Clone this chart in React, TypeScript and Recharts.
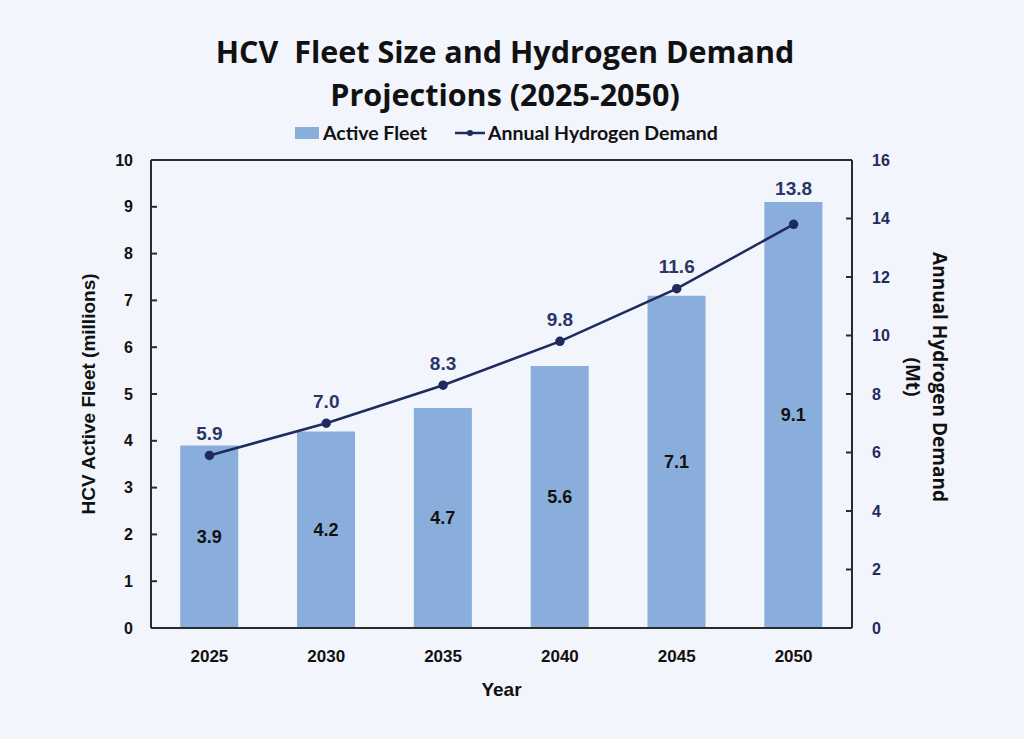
import React from "react";
import {
  ComposedChart,
  Bar,
  Line,
  XAxis,
  YAxis,
  LabelList,
  ReferenceLine,
} from "recharts";

const years = ["2025", "2030", "2035", "2040", "2045", "2050"];
const activeFleet = [3.9, 4.2, 4.7, 5.6, 7.1, 9.1];
const hydrogenDemand = [5.9, 7.0, 8.3, 9.8, 11.6, 13.8];
const fleetTicks = [0, 1, 2, 3, 4, 5, 6, 7, 8, 9, 10];
const demandTicks = [0, 2, 4, 6, 8, 10, 12, 14, 16];

const data = years.map((year, i) => ({
  year,
  fleet: activeFleet[i],
  demand: hydrogenDemand[i],
}));

const BG = "#f2f5fb";
const BAR = "#8aaedb";
const NAVY = "#1f2a5e";
const AXIS = "#2b2b2b";
const FONT = "'Liberation Sans', Arial, sans-serif";

const WIDTH = 1024;
const HEIGHT = 739;
const MARGIN = { top: 160, right: 112, bottom: 51, left: 91 };
const X_AXIS_H = 60;
const PLOT_H = HEIGHT - MARGIN.top - MARGIN.bottom - X_AXIS_H;

// demand labels sit above the point, but are lifted clear of a bar top that would cut through them
const DemandLabel = (props: any) => {
  const { x, y, value, index } = props;
  const barTop = y - (activeFleet[index] / 10 - hydrogenDemand[index] / 16) * PLOT_H;
  let ly = y - 22;
  if (ly + 9 > barTop) ly = barTop - 14;
  return (
    <text
      x={x}
      y={ly}
      textAnchor="middle"
      dominantBaseline="central"
      fill="#2b3567"
      fontSize={19}
      fontWeight={700}
      fontFamily={FONT}
    >
      {Number(value).toFixed(1)}
    </text>
  );
};

export default function App() {
  return (
    <div
      style={{
        position: "absolute",
        left: 0,
        top: 0,
        width: WIDTH,
        height: HEIGHT,
        background: BG,
        fontFamily: FONT,
      }}
    >
      <div
        style={{
          position: "absolute",
          top: 30,
          left: 0,
          width: 1010,
          textAlign: "center",
          fontFamily: "'Open Sans', sans-serif",
          fontWeight: 700,
          fontSize: 30.5,
          lineHeight: "43px",
          color: "#111",
          whiteSpace: "pre",
        }}
      >
        {"HCV  Fleet Size and Hydrogen Demand\nProjections (2025-2050)"}
      </div>

      <div
        style={{
          position: "absolute",
          top: 121,
          left: 295,
          display: "flex",
          alignItems: "center",
          fontFamily: "Lato, sans-serif",
          fontWeight: 700,
          fontSize: 19.5,
          color: "#111",
        }}
      >
        <span style={{ width: 24, height: 12, background: BAR, marginRight: 4 }} />
        <span>Active Fleet</span>
        <svg width={30} height={12} style={{ marginLeft: 28, marginRight: 3 }}>
          <line x1={0} y1={6} x2={30} y2={6} stroke={NAVY} strokeWidth={2.5} />
          <circle cx={15} cy={6} r={3} fill={NAVY} />
        </svg>
        <span>Annual Hydrogen Demand</span>
      </div>

      <ComposedChart
        width={WIDTH}
        height={HEIGHT}
        data={data}
        margin={MARGIN}
        barCategoryGap="25%"
        style={{ position: "absolute", left: 0, top: 0 }}
      >
        <XAxis
          dataKey="year"
          height={X_AXIS_H}
          tickLine={false}
          axisLine={{ stroke: AXIS, strokeWidth: 2 }}
          tick={{ fill: "#111", fontSize: 17, fontWeight: 700, fontFamily: FONT }}
          tickMargin={16}
          label={{
            value: "Year",
            position: "insideBottom",
            offset: -8,
            fill: "#111",
            fontSize: 19,
            fontWeight: 700,
          }}
        />
        <YAxis
          yAxisId="left"
          width={60}
          domain={[0, 10]}
          ticks={fleetTicks}
          interval={0}
          tickSize={-6}
          tickMargin={24}
          axisLine={{ stroke: AXIS, strokeWidth: 2 }}
          tickLine={{ stroke: AXIS, strokeWidth: 2 }}
          tick={{ fill: "#111", fontSize: 16, fontWeight: 700, fontFamily: FONT }}
          label={{
            value: "HCV Active Fleet (millions)",
            angle: -90,
            position: "insideLeft",
            offset: -3,
            style: { textAnchor: "middle" },
            fill: "#111",
            fontSize: 19,
            fontWeight: 700,
          }}
        />
        <YAxis
          yAxisId="right"
          orientation="right"
          width={60}
          domain={[0, 16]}
          ticks={demandTicks}
          interval={0}
          tickSize={-6}
          tickMargin={26}
          axisLine={{ stroke: AXIS, strokeWidth: 2 }}
          tickLine={{ stroke: AXIS, strokeWidth: 2 }}
          tick={{ fill: NAVY, fontSize: 16, fontWeight: 700, fontFamily: FONT }}
          label={(props: any) => {
            const vb = props.viewBox;
            const cy = vb.y + vb.height / 2 - 17;
            const x1 = vb.x + 88;
            const x2 = vb.x + 61;
            return (
              <g fill="#111" fontSize={19} fontWeight={700} fontFamily="'Open Sans', sans-serif">
                <text x={x1} y={cy} transform={`rotate(90 ${x1} ${cy})`} textAnchor="middle" dominantBaseline="central">
                  Annual Hydrogen Demand
                </text>
                <text x={x2} y={cy} transform={`rotate(90 ${x2} ${cy})`} textAnchor="middle" dominantBaseline="central">
                  (Mt)
                </text>
              </g>
            );
          }}
        />
        <ReferenceLine yAxisId="left" y={10} stroke={AXIS} strokeWidth={2} />
        <Bar yAxisId="left" dataKey="fleet" fill={BAR} isAnimationActive={false}>
          <LabelList
            dataKey="fleet"
            position="center"
            formatter={(v: any) => Number(v).toFixed(1)}
            fill="#111"
            fontSize={18}
            fontWeight={700}
          />
        </Bar>
        <Line
          yAxisId="right"
          dataKey="demand"
          stroke={NAVY}
          strokeWidth={2.5}
          dot={{ r: 3.5, fill: NAVY, stroke: NAVY }}
          isAnimationActive={false}
        >
          <LabelList dataKey="demand" content={DemandLabel} />
        </Line>
      </ComposedChart>
    </div>
  );
}
